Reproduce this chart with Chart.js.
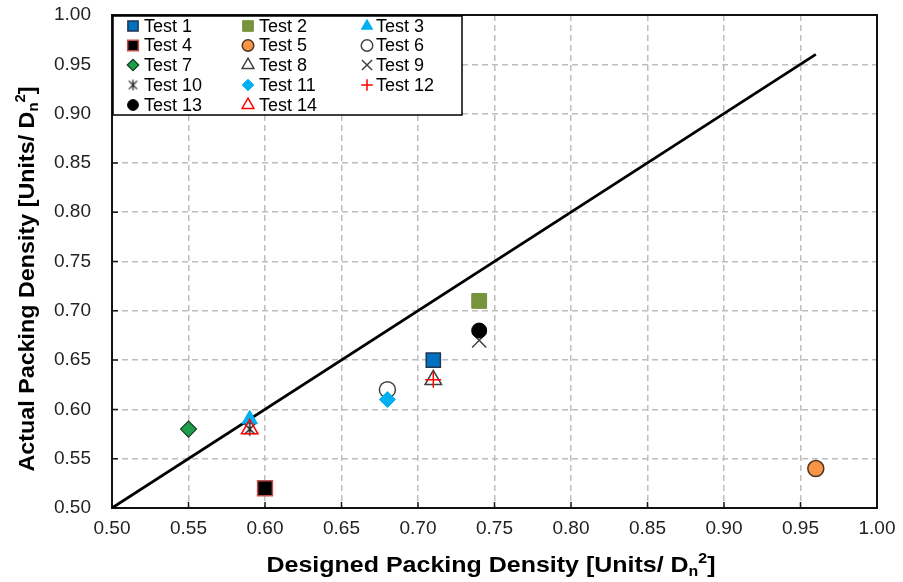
<!DOCTYPE html>
<html><head><meta charset="utf-8">
<script src="https://cdn.jsdelivr.net/npm/chart.js@4/dist/chart.umd.min.js"></script>
<style>html,body{margin:0;padding:0;background:#fff}#wrap{width:903px;height:582px}</style>
</head><body><div id="wrap"><canvas id="c" width="903" height="582"></canvas></div>
<script>
// ---- data ----
const testNames = ['Test 1','Test 2','Test 3','Test 4','Test 5','Test 6','Test 7','Test 8','Test 9','Test 10','Test 11','Test 12','Test 13','Test 14'];
const designedDensity = [0.71,0.74,0.59,0.60,0.96,0.68,0.55,0.71,0.74,0.59,0.68,0.71,0.74,0.59];
const actualDensity   = [0.65,0.71,0.59,0.52,0.54,0.62,0.58,0.63,0.67,0.58,0.61,0.63,0.68,0.58];
const equalityLineX = [0.50, 0.96];
const equalityLineY = [0.50, 0.96];
const axisMin = 0.50, axisMax = 1.00, axisStep = 0.05;
const xTitle = ['Designed Packing Density [Units/ D','n','2',']'];
const yTitle = ['Actual Packing Density [Units/ D','n','2',']'];

// ---- styles ----
function makeStar(size, color, lw){
  const c=document.createElement('canvas'); c.width=c.height=size;
  const g=c.getContext('2d'); g.strokeStyle=color; g.lineWidth=lw;
  const m=size/2, r=size/2-1.2, d=r*0.78;
  g.beginPath(); g.moveTo(m,m-r); g.lineTo(m,m+r);
  g.moveTo(m-d,m-d); g.lineTo(m+d,m+d); g.moveTo(m+d,m-d); g.lineTo(m-d,m+d); g.stroke();
  return c;
}
const starBig = makeStar(16,'#222',1.5), starSmall = makeStar(13,'#222',1.3);
const styles = [
  {ps:'rect', r:10, bg:'#0070C0', bc:'#1F3552', bw:1.5},
  {ps:'rect', r:10.5, bg:'#77933C', bc:'#77933C', bw:1},
  {ps:'triangle', r:9, bg:'#00B0F0', bc:'#00B0F0', bw:1},
  {ps:'rect', r:10.5, bg:'#000000', bc:'#C0504D', bw:1.5},
  {ps:'circle', r:8, bg:'#F79646', bc:'#4D3520', bw:1.5},
  {ps:'circle', r:8, bg:'rgba(255,255,255,0)', bc:'#404040', bw:1.5},
  {ps:'rectRot', r:8, bg:'#1E9E4A', bc:'#0F3D20', bw:1.2},
  {ps:'triangle', r:9.5, bg:'rgba(255,255,255,0)', bc:'#404040', bw:1.5},
  {ps:'crossRot', r:10, bg:'#404040', bc:'#404040', bw:1.5},
  {ps:starBig, psL:starSmall, r:8, bg:'#222', bc:'#222', bw:1.5},
  {ps:'rectRot', r:8, bg:'#00B0F0', bc:'#00B0F0', bw:1},
  {ps:'cross', r:8, bg:'#FF0000', bc:'#FF0000', bw:1.5},
  {ps:'circle', r:7.5, bg:'#000000', bc:'#000000', bw:1},
  {ps:'triangle', r:9.5, bg:'rgba(255,255,255,0)', bc:'#FF0000', bw:1.5}
];

const datasets = testNames.map((name,i)=>({
  type:'scatter', label:name,
  data:[{x:designedDensity[i], y:actualDensity[i]}],
  pointStyle:styles[i].ps, pointRadius:styles[i].r, pointHoverRadius:styles[i].r,
  backgroundColor:styles[i].bg, borderColor:styles[i].bc, borderWidth:styles[i].bw,
  pointBackgroundColor:styles[i].bg, pointBorderColor:styles[i].bc, pointBorderWidth:styles[i].bw,
  order:-(i+1)
}));
datasets.push({
  type:'line', label:'1:1', data:equalityLineX.map((x,i)=>({x, y:equalityLineY[i]})),
  borderColor:'#000', borderWidth:2.75, pointRadius:0, showLine:true, fill:false, order:0
});

// ---- plugins ----
function drawRich(ctx, parts, target){
  const sizes=[22,14,14,22], dys=[0,4,-9,0];
  let widths=[], total=0;
  parts.forEach((t,i)=>{ctx.font='bold '+sizes[i]+'px "Liberation Sans", Arial, sans-serif'; const w=ctx.measureText(t).width; widths.push(w); total+=w;});
  const s=target/total;
  ctx.scale(s,1);
  let x=-total/2;
  parts.forEach((t,i)=>{ctx.font='bold '+sizes[i]+'px "Liberation Sans", Arial, sans-serif'; ctx.fillText(t,x,dys[i]); x+=widths[i];});
}
const framePlugin = {
  id:'frame',
  beforeDatasetsDraw(chart){
    const {ctx, chartArea:a} = chart;
    ctx.save();
    ctx.strokeStyle='#1a1a1a'; ctx.lineWidth=1.5;
    const xs=chart.scales.x, ys=chart.scales.y;
    ctx.beginPath();
    xs.ticks.forEach(t=>{const px=xs.getPixelForValue(t.value); ctx.moveTo(px,a.bottom); ctx.lineTo(px,a.bottom-6);});
    ys.ticks.forEach(t=>{const py=ys.getPixelForValue(t.value); ctx.moveTo(a.left,py); ctx.lineTo(a.left+6,py);});
    ctx.stroke();
    ctx.lineWidth=2; ctx.strokeStyle='#111';
    ctx.strokeRect(a.left,a.top,a.right-a.left,a.bottom-a.top);
    ctx.restore();
  },
  afterDraw(chart){
    const ctx=chart.ctx;
    ctx.save(); ctx.fillStyle='#000'; ctx.textBaseline='alphabetic';
    ctx.save(); ctx.translate(491,572); drawRich(ctx,xTitle,449); ctx.restore();
    ctx.save(); ctx.translate(34,279); ctx.rotate(-Math.PI/2); drawRich(ctx,yTitle,385); ctx.restore();
    ctx.restore();
    // legend
    ctx.save();
    ctx.fillStyle='#fff'; ctx.fillRect(113,16,349,99);
    ctx.strokeStyle='#000'; ctx.lineWidth=1.5; ctx.strokeRect(113,16,349,99);
    const colM=[133,248,367], colT=[144,259,376], rowY=[26,45.5,65,85,105];
    testNames.forEach((name,i)=>{
      const c=i%3, r=Math.floor(i/3), st=styles[i];
      ctx.fillStyle=st.bg; ctx.strokeStyle=st.bc; ctx.lineWidth=st.bw;
      Chart.helpers.drawPoint(ctx,{pointStyle:st.psL||st.ps, radius:st.r*0.72, rotation:0, borderWidth:st.bw}, colM[c], rowY[r]);
      ctx.fillStyle='#000'; ctx.font='18px "Liberation Sans", Arial, sans-serif'; ctx.textBaseline='middle'; ctx.textAlign='left';
      ctx.fillText(name,colT[c],rowY[r]+1);
    });
    ctx.restore();
  }
};

new Chart(document.getElementById('c'),{
  data:{datasets},
  options:{
    responsive:false, animation:false,
    layout:{padding:{left:0,right:26,top:15,bottom:0}},
    plugins:{legend:{display:false}, tooltip:{enabled:false}},
    scales:{
      x:{type:'linear', min:axisMin, max:axisMax,
        ticks:{stepSize:axisStep, color:'#222', padding:9, font:{family:'"Liberation Sans", Arial, sans-serif', size:19}, callback:v=>Number(v).toFixed(2)},
        grid:{color:'#BEBEBE', lineWidth:1.5, drawTicks:false}, border:{display:false, dash:[6,4]},
        afterFit(s){s.height=74; s.paddingLeft=0; s.paddingRight=0;}},
      y:{type:'linear', min:axisMin, max:axisMax,
        ticks:{stepSize:axisStep, color:'#222', padding:21, font:{family:'"Liberation Sans", Arial, sans-serif', size:19}, callback:v=>Number(v).toFixed(2)},
        grid:{color:'#BEBEBE', lineWidth:1.5, drawTicks:false}, border:{display:false, dash:[6,4]},
        afterFit(s){s.width=112; s.paddingTop=0; s.paddingBottom=0;}}
    }
  },
  plugins:[framePlugin]
});
</script></body></html>
